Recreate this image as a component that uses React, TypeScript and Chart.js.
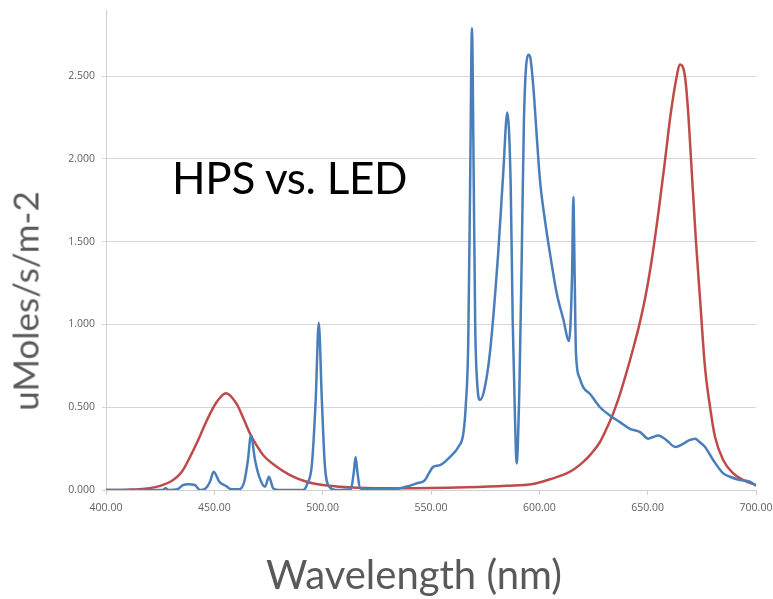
import React, { useEffect, useRef } from "react";
import { Chart, registerables } from "chart.js";

Chart.register(...registerables);

const TITLE = "HPS vs. LED";
const Y_TITLE = "uMoles/s/m-2";
const X_TITLE = "Wavelength (nm)";

const HPS_SERIES = "HPS";
const LED_SERIES = "LED";

const hpsWavelengths = [
  400, 420, 426, 427.5, 429, 433, 435.5, 438, 441, 443.4, 446, 448, 449.7, 452.3, 455.4, 457.7,
  461.5, 463.8, 465.5, 466.9, 468.8, 471, 473.4, 475.2, 477.2, 480, 491, 493, 495, 496.8, 498.2,
  499.6, 501, 503, 506, 513, 514.3, 515.2, 516.1, 517.3, 520, 530, 535.7, 540, 543.4, 547.2, 549,
  551, 554.2, 558.8, 562.6, 564.9, 566, 567.2, 568.1, 568.9, 569.7, 570.4, 571.3, 572.6, 574.5,
  577.2, 581, 583.4, 585.2, 586.8, 587.7, 588.8, 589.5, 590.8, 591.9, 592.9, 594.9, 595.7, 597.2,
  598.8, 600.3, 602.6, 604.9, 608, 611.1, 613.7, 615.1, 615.7, 616.3, 616.9, 618.5, 620.3, 623.4,
  628, 632.6, 637.2, 641.8, 646.5, 650.3, 652.5, 654.9, 658.8, 662.7, 666.5, 669, 671.9, 674,
  676.5, 680.3, 684.9, 688, 692.6, 697.2, 700,
];
const hpsValues = [
  0, 0, 0, 0.01, 0, 0.005, 0.03, 0.035, 0.03, 0, 0.01, 0.05, 0.11, 0.05, 0.024, 0.005,
  0.005, 0.05, 0.18, 0.33, 0.18, 0.07, 0.02, 0.08, 0.01, 0, 0, 0.04, 0.15, 0.55, 1.01,
  0.55, 0.15, 0.02, 0, 0.005, 0.1, 0.2, 0.1, 0.01, 0.005, 0.005, 0.01, 0.025, 0.04, 0.06, 0.1,
  0.14, 0.15, 0.2, 0.26, 0.34, 0.5, 0.9, 1.9, 2.79, 1.9, 1.0, 0.65, 0.545, 0.6,
  0.83, 1.43, 1.93, 2.28, 1.83, 1.03, 0.42, 0.16, 0.62, 1.43, 2.24, 2.63, 2.62, 2.44,
  2.14, 1.87, 1.63, 1.43, 1.19, 1.03, 0.9, 1.3, 1.77, 1.3, 0.83, 0.68, 0.62, 0.58,
  0.5, 0.45, 0.41, 0.37, 0.35, 0.31, 0.32, 0.33, 0.3, 0.26, 0.28, 0.3, 0.31, 0.29,
  0.26, 0.18, 0.1, 0.08, 0.06, 0.05, 0.025,
];

const ledWavelengths = [
  400, 410, 418, 425, 431, 435, 438.8, 442.5, 446.5, 451, 455.4, 460.3, 463.5, 466.5, 469.5,
  472.6, 478.8, 484.9, 492.6, 500, 508, 515.7, 535.7, 566.5, 585, 597, 605, 612.6, 616.5, 620.3,
  624, 628, 631, 634, 637, 640, 643, 646, 649, 652, 655, 658, 660.5, 663, 665,
  667.2, 668.6, 670, 672.3, 674.2, 676.4, 678.8, 681.1, 684.9, 689.5, 694.2, 700,
];
const ledValues = [
  0, 0.002, 0.008, 0.025, 0.06, 0.11, 0.2, 0.3, 0.42, 0.53, 0.585, 0.52, 0.43, 0.34, 0.27,
  0.21, 0.14, 0.09, 0.05, 0.03, 0.02, 0.014, 0.01, 0.016, 0.025, 0.036, 0.065, 0.1, 0.13, 0.17,
  0.22, 0.29, 0.37, 0.46, 0.57, 0.7, 0.84, 0.99, 1.17, 1.4, 1.68, 1.99, 2.26, 2.47, 2.57,
  2.5, 2.3, 2.0, 1.5, 1.15, 0.75, 0.5, 0.32, 0.18, 0.1, 0.06, 0.03,
];

const xTickValues = [400, 450, 500, 550, 600, 650, 700];
const yTickValues = [0, 0.5, 1, 1.5, 2, 2.5];
const Y_MAX = 2.9;

const zip = (xs: number[], ys: number[]) => xs.map((x, i) => ({ x, y: ys[i] }));

export default function App() {
  const canvasRef = useRef<HTMLCanvasElement | null>(null);

  useEffect(() => {
    if (!canvasRef.current) return;
    const chart = new Chart(canvasRef.current, {
      type: "line",
      data: {
        datasets: [
          {
            label: HPS_SERIES,
            data: zip(hpsWavelengths, hpsValues),
            borderColor: "#4a7ebb",
            borderWidth: 2.5,
            pointRadius: 0,
            cubicInterpolationMode: "monotone",
            fill: false,
          },
          {
            label: LED_SERIES,
            data: zip(ledWavelengths, ledValues),
            borderColor: "#be4b48",
            borderWidth: 2.5,
            pointRadius: 0,
            cubicInterpolationMode: "monotone",
            fill: false,
          },
        ],
      },
      options: {
        animation: false,
        responsive: false,
        devicePixelRatio: 1,
        layout: { padding: { left: 0, right: 17, top: 10, bottom: 79 } },
        plugins: { legend: { display: false }, tooltip: { enabled: false }, title: { display: false } },
        scales: {
          x: {
            type: "linear",
            min: 400,
            max: 700,
            afterBuildTicks: (scale: any) => {
              scale.ticks = xTickValues.map((v) => ({ value: v }));
            },
            afterFit: (scale: any) => {
              scale.height = 30;
              scale.paddingLeft = 0;
              scale.paddingRight = 0;
            },
            ticks: {
              color: "#606060",
              font: { family: "'Open Sans'", size: 10.5 },
              padding: 7,
              maxRotation: 0,
              autoSkip: false,
              callback: (v: any) => Number(v).toFixed(2),
            },
            grid: {
              display: true,
              drawOnChartArea: false,
              drawTicks: true,
              tickLength: 5,
              color: "#d0d0d0",
            },
            border: { display: true, color: "#d0d0d0", width: 1 },
          },
          y: {
            type: "linear",
            min: 0,
            max: Y_MAX,
            afterBuildTicks: (scale: any) => {
              scale.ticks = yTickValues.map((v) => ({ value: v }));
            },
            afterFit: (scale: any) => {
              scale.width = 106;
              scale.paddingTop = 0;
              scale.paddingBottom = 0;
            },
            ticks: {
              color: "#606060",
              font: { family: "'Open Sans'", size: 10.5 },
              padding: 7,
              autoSkip: false,
              callback: (v: any) => Number(v).toFixed(3),
            },
            grid: {
              display: true,
              drawOnChartArea: true,
              drawTicks: true,
              tickLength: 4,
              color: "#d6d6d6",
            },
            border: { display: true, color: "#d0d0d0", width: 1 },
          },
        },
      },
    });
    return () => chart.destroy();
  }, []);

  return (
    <div style={{ position: "absolute", left: 0, top: 0, width: 773, height: 599, background: "#fff" }}>
      <canvas ref={canvasRef} width={773} height={599} style={{ position: "absolute", left: 0, top: 0 }} />
      <div
        style={{
          position: "absolute",
          left: 172,
          top: 154.5,
          fontFamily: "Lato, sans-serif",
          fontSize: 44,
          letterSpacing: -0.3,
          lineHeight: 1,
          color: "#000",
          whiteSpace: "nowrap",
        }}
      >
        {TITLE}
      </div>
      <div
        style={{
          position: "absolute",
          left: 24.5,
          top: 301,
          transform: "translate(-50%, -50%) rotate(-90deg)",
          fontFamily: "Lato, sans-serif",
          fontSize: 35,
          lineHeight: 1,
          color: "#595959",
          whiteSpace: "nowrap",
        }}
      >
        {Y_TITLE}
      </div>
      <div
        style={{
          position: "absolute",
          left: 414,
          top: 574,
          transform: "translate(-50%, -50%)",
          fontFamily: "Lato, sans-serif",
          fontSize: 40,
          lineHeight: 1,
          color: "#595959",
          whiteSpace: "nowrap",
        }}
      >
        {X_TITLE}
      </div>
    </div>
  );
}
